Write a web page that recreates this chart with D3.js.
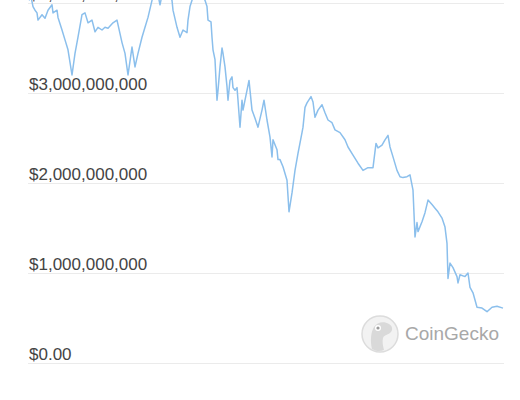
<!DOCTYPE html>
<html>
<head>
<meta charset="utf-8">
<script src="https://cdn.jsdelivr.net/npm/d3@7"></script>
<style>
  body { margin: 0; background: #fff; }
  svg { display: block; }
</style>
</head>
<body>
<script>
// day offsets from the first sample
const days = [0,2,4,6,8,9,13,16,19,23,24,28,29,33,36,39,43,46,49,53,56,59,63,66,69,73,76,79,84,88,89,93,96,99,103,106,109,113,116,119,
  123,126,129,131,134,138,141,143,144,148,151,154,158,159,161,163,166,171,174,176,178,179,182,183,184,186,188,189,191,193,194,196,198,199,
  201,203,204,206,208,209,211,213,214,216,218,220,223,226,229,233,235,238,241,243,244,248,249,251,254,258,260,263,266,269,273,274,276,278,
  282,284,286,289,293,296,299,303,306,311,316,319,324,329,334,339,344,347,349,353,356,359,361,364,368,371,374,378,381,384,386,388,389,393,
  396,399,403,406,409,413,416,418,419,421,424,428,429,431,436,439,441,444,448,453,458,463,468,474];

// market cap in billions of USD
const marketCap = [4.03,4.07,3.96,3.92,3.89,3.81,3.87,3.83,3.92,3.98,3.89,3.92,3.84,3.70,3.59,3.48,3.20,3.44,3.62,3.87,3.89,3.78,3.81,3.68,3.73,3.70,3.73,3.72,3.78,3.81,
  3.76,3.56,3.44,3.20,3.51,3.29,3.44,3.62,3.73,3.84,4.03,4.14,4.09,3.98,4.14,4.12,4.07,4.03,3.92,3.73,3.62,3.70,3.67,3.81,3.96,4.03,4.14,4.12,4.07,4.03,
  3.96,3.81,3.79,3.62,3.48,3.37,2.92,3.03,3.29,3.50,3.44,3.29,3.07,2.92,3.14,3.18,3.06,3.03,3.06,2.92,2.62,2.92,2.81,2.92,3.03,3.14,2.81,2.72,2.62,2.81,
  2.92,2.70,2.51,2.29,2.48,2.37,2.26,2.26,2.18,2.03,1.68,1.89,2.14,2.33,2.56,2.62,2.84,2.89,2.96,2.90,2.73,2.81,2.87,2.78,2.70,2.67,2.59,2.56,2.48,2.40,
  2.31,2.22,2.14,2.17,2.17,2.44,2.39,2.42,2.48,2.53,2.40,2.29,2.14,2.07,2.06,2.07,2.09,1.92,1.40,1.56,1.46,1.57,1.67,1.81,1.76,1.72,1.68,1.61,1.51,1.33,
  0.94,1.11,1.06,0.96,0.89,0.98,0.96,1.00,0.84,0.78,0.62,0.61,0.57,0.62,0.63,0.61];

const yTicks = [0, 1e9, 2e9, 3e9, 4e9];

const width = 520, height = 400;

const svg = d3.select("body").append("svg")
    .attr("width", width)
    .attr("height", height);

const x = d3.scaleLinear().domain(d3.extent(days)).range([29, 503]);
const y = d3.scaleLinear().domain([0, 4e9]).range([363, 3]);

const fmt = d => d === 0 ? "$0.00" : d3.format("$,")(d);

// grid + labels
const yAxis = d3.axisLeft(y)
    .tickValues(yTicks)
    .tickSize(-(504 - 28))
    .tickFormat(fmt);

const gy = svg.append("g")
    .attr("transform", "translate(28,0)")
    .call(yAxis);

gy.select(".domain").remove();
gy.selectAll(".tick line")
    .attr("stroke", "#ebebeb")
    .attr("stroke-width", 1);
gy.selectAll(".tick text")
    .attr("x", 1)
    .attr("dy", -3.5)
    .attr("text-anchor", "start")
    .attr("fill", "#444")
    .style("font-family", "'Liberation Sans', Arial, sans-serif")
    .style("font-size", "17px");

// watermark
const wm = svg.append("g").attr("transform", "translate(380,334)");
wm.append("circle").attr("r", 18).attr("fill", "#f2f2f2").attr("stroke", "#dcdcdc").attr("stroke-width", 1.5);
wm.append("path")
    .attr("d", "M-8,15 C-10,6 -9,-2 -6,-7 C-3,-12 4,-13 9,-10 C13,-8 13,-3 10,-1 C7,1 4,1 3,4 C2,8 3,12 4,16 C0,18 -5,17 -8,15 Z")
    .attr("fill", "#d9d9d9");
wm.append("circle").attr("cx", -2).attr("cy", -6).attr("r", 3).attr("fill", "#fff");
wm.append("circle").attr("cx", -2).attr("cy", -6).attr("r", 1.6).attr("fill", "#9a9a9a");

svg.append("text")
    .attr("x", 405)
    .attr("y", 340)
    .attr("fill", "#a8a8a8")
    .style("font-family", "'Liberation Sans', Arial, sans-serif")
    .style("font-size", "19px")
    .text("CoinGecko");

// line
const data = days.map((d, i) => ({ day: d, cap: marketCap[i] * 1e9 }));

const line = d3.line()
    .x(d => x(d.day))
    .y(d => y(d.cap));

svg.append("path")
    .datum(data)
    .attr("fill", "none")
    .attr("stroke", "#8bbfec")
    .attr("stroke-width", 1.5)
    .attr("stroke-linejoin", "round")
    .attr("d", line);
</script>
</body>
</html>
